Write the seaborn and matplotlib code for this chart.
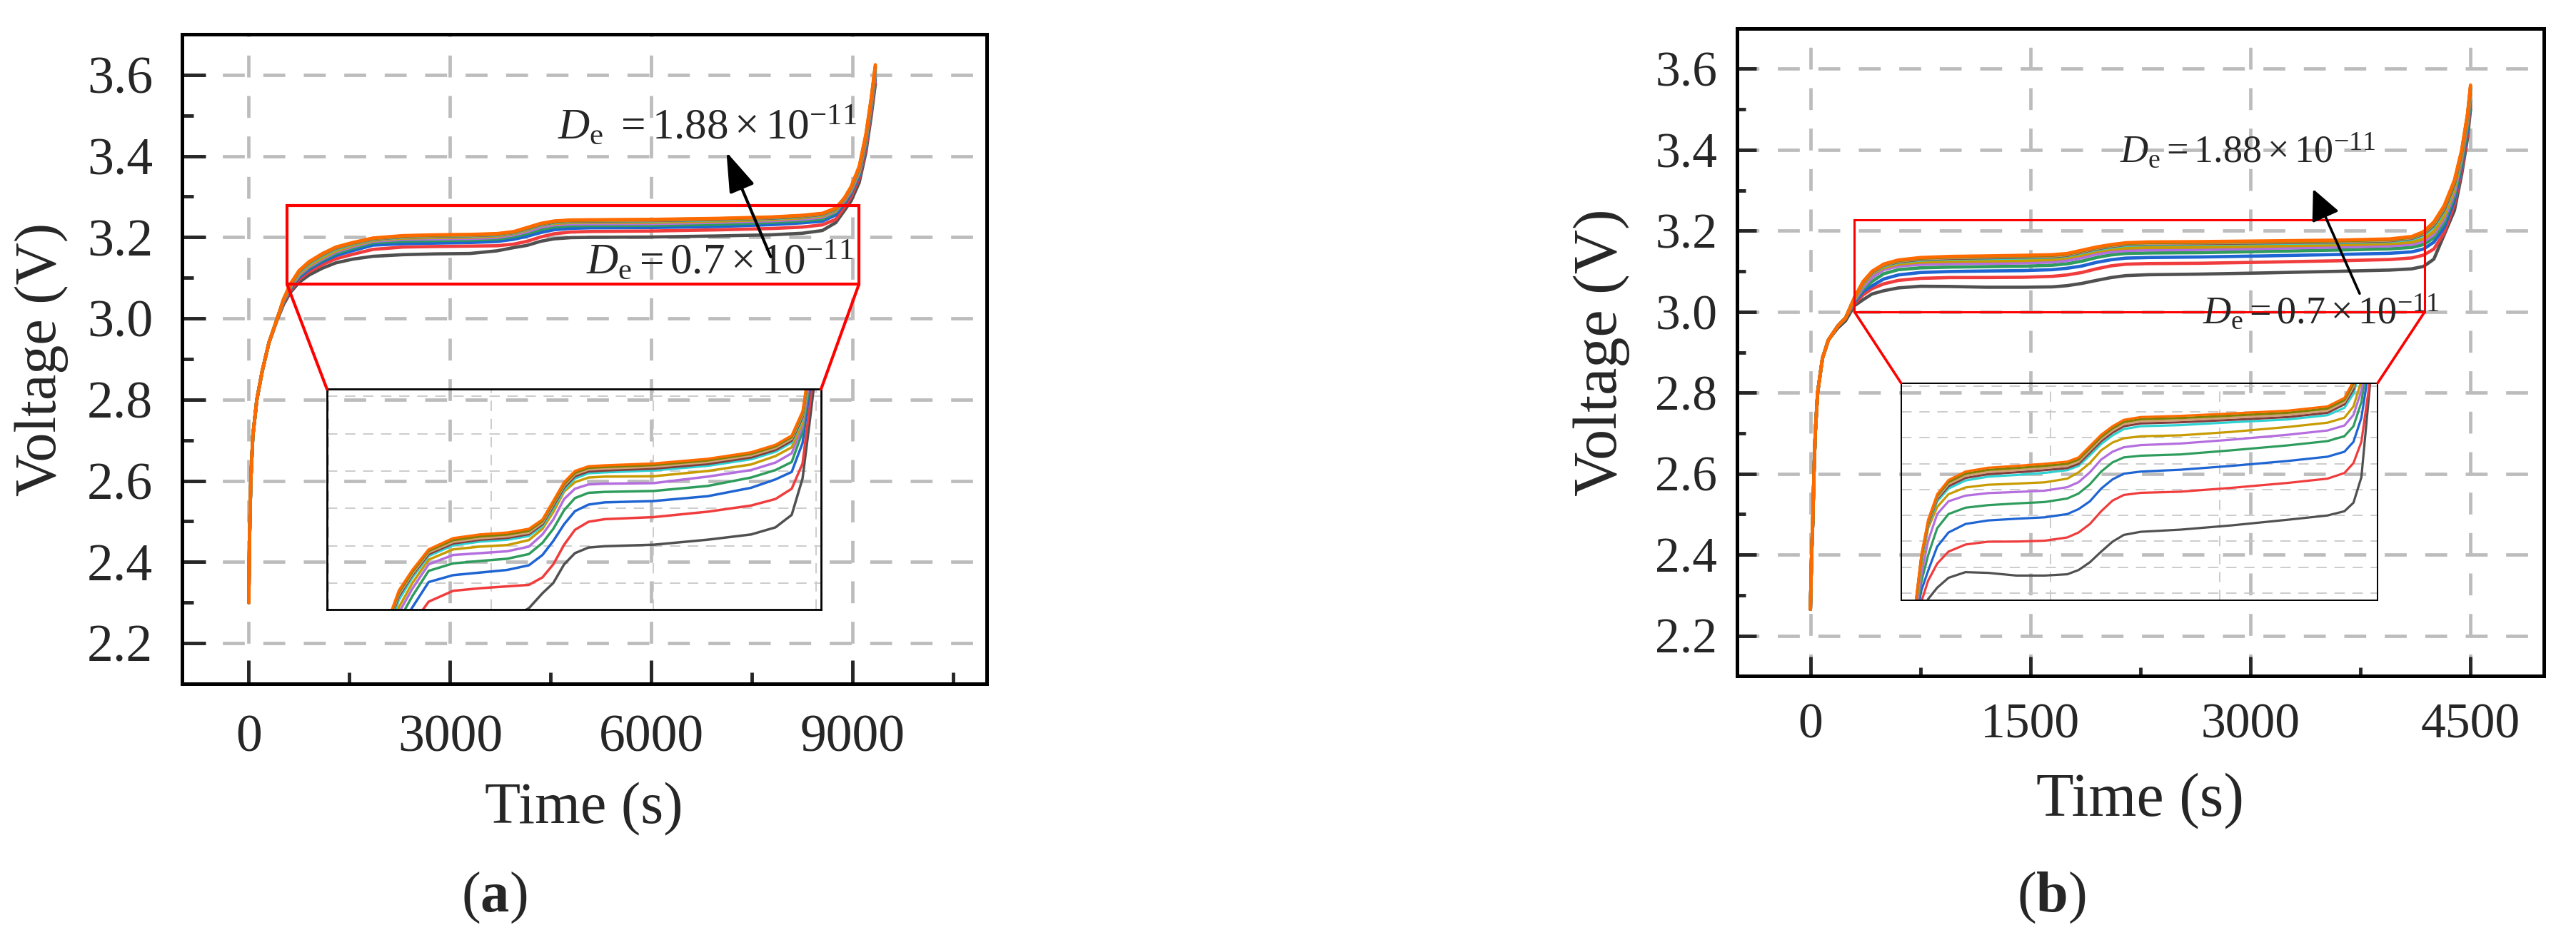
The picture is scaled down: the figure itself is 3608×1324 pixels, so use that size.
import numpy as np
import pandas as pd
import matplotlib
matplotlib.use("Agg")
import matplotlib.pyplot as plt
import seaborn as sns
from matplotlib.ticker import MultipleLocator, FixedLocator, FormatStrFormatter
from matplotlib.patches import Rectangle, ArrowStyle

# ---------------- data ----------------
de_labels = ["0.70", "0.82", "0.94", "1.05", "1.17", "1.29", "1.41", "1.52", "1.64", "1.76", "1.88"]
line_colors = ["#505050", "#f03c3c", "#1e64d2", "#2e9c5c", "#b46ede", "#c89b00",
               "#2ed2d2", "#823c3c", "#d2a078", "#7f8000", "#ff6a00"]

# panel (a)
time_a = [0, 10, 30, 60, 120, 200, 300, 420, 520, 620, 750, 900, 1100, 1300, 1550, 1850,
          2300, 2800, 3300, 3700, 3950, 4150, 4350, 4550, 4800, 5100, 6000, 7000, 7800,
          8250, 8550, 8750, 8880, 8980, 9100, 9200, 9280, 9340]
volt_a_01 = [2.30, 2.45, 2.60, 2.71, 2.80, 2.87, 2.94, 2.995, 3.035, 3.064, 3.089, 3.107, 3.124, 3.137, 3.146, 3.153, 3.157, 3.159, 3.160, 3.1665, 3.1745, 3.180, 3.190, 3.196, 3.199, 3.1997, 3.2005, 3.2032, 3.206, 3.2098, 3.2165, 3.236, 3.266, 3.29, 3.335, 3.41, 3.50, 3.578]
volt_a_02 = [2.30, 2.45, 2.60, 2.71, 2.80, 2.87, 2.94, 2.996, 3.039, 3.069, 3.096, 3.115, 3.133, 3.147, 3.158, 3.170, 3.1758, 3.1772, 3.1782, 3.179, 3.183, 3.190, 3.2005, 3.2085, 3.2128, 3.2142, 3.2153, 3.2182, 3.2215, 3.225, 3.2305, 3.244, 3.274, 3.30, 3.345, 3.42, 3.51, 3.588]
volt_a_03 = [2.30, 2.45, 2.60, 2.71, 2.80, 2.87, 2.94, 2.997, 3.041, 3.073, 3.101, 3.121, 3.140, 3.155, 3.167, 3.1805, 3.1842, 3.1856, 3.187, 3.1895, 3.195, 3.2025, 3.2115, 3.2185, 3.222, 3.2232, 3.2239, 3.2265, 3.231, 3.2355, 3.2395, 3.255, 3.283, 3.308, 3.352, 3.429, 3.518, 3.595]
volt_a_04 = [2.30, 2.45, 2.60, 2.71, 2.80, 2.87, 2.94, 2.998, 3.043, 3.075, 3.105, 3.125, 3.144, 3.160, 3.173, 3.1865, 3.1905, 3.1918, 3.193, 3.1955, 3.2015, 3.209, 3.219, 3.2255, 3.2283, 3.2288, 3.2293, 3.232, 3.2365, 3.2405, 3.2448, 3.261, 3.287, 3.312, 3.357, 3.434, 3.524, 3.600]
volt_a_05 = [2.30, 2.45, 2.60, 2.71, 2.80, 2.87, 2.94, 2.998, 3.044, 3.077, 3.107, 3.128, 3.147, 3.164, 3.177, 3.190, 3.195, 3.196, 3.197, 3.1995, 3.206, 3.214, 3.225, 3.2305, 3.2328, 3.2332, 3.2335, 3.237, 3.2405, 3.2445, 3.2495, 3.264, 3.290, 3.315, 3.360, 3.438, 3.528, 3.605]
volt_a_06 = [2.30, 2.45, 2.60, 2.71, 2.80, 2.87, 2.94, 2.998, 3.045, 3.079, 3.110, 3.131, 3.150, 3.167, 3.180, 3.1925, 3.198, 3.1995, 3.2003, 3.203, 3.209, 3.218, 3.229, 3.234, 3.2365, 3.237, 3.2372, 3.240, 3.2435, 3.248, 3.2527, 3.266, 3.293, 3.318, 3.363, 3.442, 3.532, 3.610]
volt_a_07 = [2.30, 2.45, 2.60, 2.71, 2.80, 2.87, 2.94, 2.998, 3.046, 3.081, 3.113, 3.135, 3.155, 3.171, 3.183, 3.1945, 3.2002, 3.2022, 3.2032, 3.2052, 3.2105, 3.220, 3.230, 3.236, 3.2388, 3.2393, 3.2403, 3.2428, 3.2463, 3.2503, 3.2553, 3.268, 3.295, 3.321, 3.367, 3.446, 3.536, 3.616]
volt_a_08 = [2.30, 2.45, 2.60, 2.71, 2.80, 2.87, 2.94, 2.998, 3.047, 3.082, 3.115, 3.137, 3.157, 3.173, 3.1843, 3.1955, 3.2012, 3.2032, 3.2042, 3.2062, 3.2115, 3.2212, 3.2312, 3.2372, 3.2398, 3.2403, 3.2413, 3.2438, 3.2473, 3.2513, 3.2563, 3.269, 3.2955, 3.322, 3.369, 3.448, 3.538, 3.618]
volt_a_09 = [2.30, 2.45, 2.60, 2.71, 2.80, 2.87, 2.94, 2.998, 3.047, 3.083, 3.116, 3.138, 3.158, 3.174, 3.185, 3.1964, 3.202, 3.204, 3.205, 3.207, 3.2123, 3.2222, 3.2322, 3.2382, 3.2408, 3.2413, 3.2423, 3.2448, 3.2483, 3.2523, 3.2573, 3.270, 3.296, 3.323, 3.371, 3.450, 3.540, 3.620]
volt_a_10 = [2.30, 2.45, 2.60, 2.71, 2.80, 2.87, 2.94, 2.998, 3.048, 3.084, 3.117, 3.139, 3.159, 3.175, 3.186, 3.1972, 3.203, 3.205, 3.206, 3.208, 3.2132, 3.223, 3.233, 3.239, 3.2417, 3.2422, 3.2432, 3.2457, 3.2492, 3.2532, 3.2582, 3.271, 3.2965, 3.324, 3.373, 3.452, 3.542, 3.622]
volt_a_11 = [2.30, 2.45, 2.60, 2.71, 2.80, 2.87, 2.94, 2.998, 3.048, 3.085, 3.118, 3.140, 3.160, 3.176, 3.187, 3.198, 3.204, 3.206, 3.207, 3.209, 3.214, 3.224, 3.234, 3.240, 3.2425, 3.243, 3.244, 3.2465, 3.250, 3.254, 3.259, 3.272, 3.297, 3.325, 3.375, 3.455, 3.545, 3.625]

# panel (b)
time_b = [0, 8, 16, 24, 33, 49, 82, 122, 187, 240, 300, 360, 420, 500, 600, 750, 950, 1200,
          1450, 1650, 1750, 1850, 1950, 2050, 2150, 2300, 2650, 3100, 3600, 3950, 4100, 4180,
          4250, 4320, 4390, 4440, 4480, 4500]
volt_b_01 = [2.265, 2.40, 2.48, 2.60, 2.70, 2.80, 2.885, 2.93, 2.96, 2.978, 3.015, 3.030, 3.044, 3.052, 3.059, 3.063, 3.0625, 3.0606, 3.0606, 3.0615, 3.0645, 3.070, 3.0775, 3.0845, 3.0893, 3.0915, 3.093, 3.096, 3.100, 3.103, 3.106, 3.112, 3.13, 3.19, 3.25, 3.34, 3.43, 3.50]
volt_b_02 = [2.265, 2.40, 2.48, 2.60, 2.70, 2.80, 2.885, 2.93, 2.965, 2.985, 3.020, 3.042, 3.057, 3.069, 3.0775, 3.0825, 3.0845, 3.0846, 3.0852, 3.0875, 3.091, 3.097, 3.106, 3.1135, 3.1175, 3.119, 3.1198, 3.1225, 3.126, 3.129, 3.133, 3.140, 3.155, 3.195, 3.265, 3.35, 3.44, 3.51]
volt_b_03 = [2.265, 2.40, 2.48, 2.60, 2.70, 2.80, 2.885, 2.93, 2.965, 2.985, 3.024, 3.050, 3.064, 3.081, 3.091, 3.097, 3.0995, 3.1007, 3.1017, 3.104, 3.1075, 3.113, 3.122, 3.1285, 3.1325, 3.134, 3.1353, 3.138, 3.1415, 3.1445, 3.148, 3.155, 3.172, 3.208, 3.275, 3.36, 3.45, 3.52]
volt_b_04 = [2.265, 2.40, 2.48, 2.60, 2.70, 2.80, 2.885, 2.93, 2.965, 2.985, 3.027, 3.056, 3.075, 3.094, 3.104, 3.1085, 3.1103, 3.1115, 3.1125, 3.115, 3.1185, 3.125, 3.134, 3.1405, 3.144, 3.1452, 3.1461, 3.149, 3.1525, 3.1555, 3.159, 3.166, 3.183, 3.22, 3.285, 3.37, 3.46, 3.525]
volt_b_05 = [2.265, 2.40, 2.48, 2.60, 2.70, 2.80, 2.885, 2.93, 2.965, 2.985, 3.029, 3.061, 3.085, 3.104, 3.113, 3.117, 3.1188, 3.1196, 3.1205, 3.123, 3.1265, 3.1335, 3.1425, 3.148, 3.1512, 3.1527, 3.1538, 3.1565, 3.160, 3.163, 3.1665, 3.174, 3.191, 3.229, 3.294, 3.38, 3.47, 3.535]
volt_b_06 = [2.265, 2.40, 2.48, 2.60, 2.70, 2.80, 2.885, 2.93, 2.965, 2.985, 3.031, 3.068, 3.094, 3.109, 3.118, 3.1228, 3.1247, 3.1255, 3.1264, 3.129, 3.1335, 3.140, 3.149, 3.1545, 3.1575, 3.1589, 3.1596, 3.162, 3.1655, 3.1685, 3.172, 3.180, 3.198, 3.237, 3.303, 3.385, 3.475, 3.54]
volt_b_07 = [2.265, 2.40, 2.48, 2.60, 2.70, 2.80, 2.885, 2.93, 2.965, 2.985, 3.033, 3.072, 3.096, 3.113, 3.122, 3.1277, 3.1304, 3.1316, 3.1331, 3.135, 3.138, 3.1455, 3.1535, 3.1595, 3.164, 3.166, 3.1668, 3.1688, 3.1708, 3.1738, 3.179, 3.189, 3.21, 3.248, 3.312, 3.392, 3.482, 3.548]
volt_b_08 = [2.265, 2.40, 2.48, 2.60, 2.70, 2.80, 2.885, 2.93, 2.965, 2.985, 3.034, 3.073, 3.097, 3.1145, 3.1237, 3.1295, 3.1322, 3.1335, 3.135, 3.1365, 3.1395, 3.1475, 3.1555, 3.1615, 3.166, 3.168, 3.1688, 3.1705, 3.1725, 3.1755, 3.1815, 3.192, 3.214, 3.252, 3.316, 3.394, 3.485, 3.552]
volt_b_09 = [2.265, 2.40, 2.48, 2.60, 2.70, 2.80, 2.885, 2.93, 2.965, 2.985, 3.034, 3.074, 3.098, 3.1155, 3.1252, 3.131, 3.1337, 3.135, 3.1365, 3.138, 3.141, 3.149, 3.157, 3.163, 3.1675, 3.1695, 3.1703, 3.172, 3.174, 3.177, 3.183, 3.194, 3.217, 3.256, 3.32, 3.397, 3.487, 3.555]
volt_b_10 = [2.265, 2.40, 2.48, 2.60, 2.70, 2.80, 2.885, 2.93, 2.965, 2.985, 3.035, 3.0745, 3.099, 3.1168, 3.1266, 3.1325, 3.1352, 3.1365, 3.138, 3.1395, 3.1425, 3.1505, 3.1585, 3.1645, 3.169, 3.171, 3.1718, 3.1735, 3.1755, 3.1785, 3.1845, 3.196, 3.22, 3.259, 3.322, 3.398, 3.488, 3.557]
volt_b_11 = [2.265, 2.40, 2.48, 2.60, 2.70, 2.80, 2.885, 2.93, 2.965, 2.985, 3.035, 3.075, 3.100, 3.118, 3.128, 3.134, 3.1367, 3.138, 3.1395, 3.141, 3.144, 3.152, 3.160, 3.166, 3.1705, 3.1725, 3.1733, 3.175, 3.177, 3.180, 3.186, 3.198, 3.222, 3.262, 3.325, 3.40, 3.49, 3.56]

volts_a = [volt_a_01, volt_a_02, volt_a_03, volt_a_04, volt_a_05, volt_a_06,
           volt_a_07, volt_a_08, volt_a_09, volt_a_10, volt_a_11]
volts_b = [volt_b_01, volt_b_02, volt_b_03, volt_b_04, volt_b_05, volt_b_06,
           volt_b_07, volt_b_08, volt_b_09, volt_b_10, volt_b_11]


def long_frame(times, volts):
    rows = []
    for lab, v in zip(de_labels, volts):
        for t, y in zip(times, v):
            rows.append((lab, t, y))
    return pd.DataFrame(rows, columns=["De", "time", "voltage"])


df_a = long_frame(time_a, volts_a)
df_b = long_frame(time_b, volts_b)
palette = dict(zip(de_labels, line_colors))

# ---------------- style ----------------
sns.set_style("white")
plt.rcParams["font.family"] = ["Liberation Serif", "DejaVu Serif"]
plt.rcParams["mathtext.fontset"] = "custom"
plt.rcParams["mathtext.rm"] = "Liberation Serif"
plt.rcParams["mathtext.it"] = "Liberation Serif:italic"
plt.rcParams["mathtext.bf"] = "Liberation Serif:bold"

RED = "#ff0000"
GRID = "#bcbcbc"

fig = plt.figure(figsize=(36.08, 13.24), dpi=100)
ax_a = fig.add_axes([0.07054, 0.27644, 0.3125, 0.68731])
ax_b = fig.add_axes([0.67433, 0.28444, 0.3132, 0.68558])


def style_main(ax, xlim, xmaj, xmin, tick_len, tick_fs, xpad, ypad, label_fs, xlpad, ylpad):
    ax.set_xlim(*xlim)
    ax.set_ylim(2.1, 3.7)
    ax.xaxis.set_major_locator(MultipleLocator(xmaj))
    ax.xaxis.set_minor_locator(MultipleLocator(xmin))
    ax.yaxis.set_major_locator(MultipleLocator(0.2))
    ax.yaxis.set_minor_locator(MultipleLocator(0.1))
    ax.yaxis.set_major_formatter(FormatStrFormatter("%.1f"))
    ax.set_axisbelow(True)
    ax.grid(which="major", color=GRID, linewidth=3.4, linestyle=(0, (6.5, 5.5)))
    ax.tick_params(which="both", direction="in", top=False, right=False,
                   bottom=True, left=True, width=3.5, labelsize=tick_fs)
    ax.tick_params(which="major", length=tick_len)
    ax.tick_params(which="minor", length=tick_len * 0.48)
    ax.tick_params(axis="x", pad=xpad)
    ax.tick_params(axis="y", pad=ypad)
    for s in ax.spines.values():
        s.set_linewidth(3.6)
        s.set_color("black")
    ax.set_xlabel("Time (s)", fontsize=label_fs, labelpad=xlpad)
    ax.set_ylabel("Voltage (V)", fontsize=label_fs, labelpad=ylpad)


def style_inset(ax, xlim, ylim, xmaj, xmin, yticks_major, yticks_minor, lw_spine, tlen):
    ax.set_facecolor("none")
    ax.set_xlim(*xlim)
    ax.set_ylim(*ylim)
    ax.xaxis.set_major_locator(MultipleLocator(xmaj))
    ax.xaxis.set_minor_locator(MultipleLocator(xmin))
    ax.yaxis.set_major_locator(FixedLocator(yticks_major))
    ax.yaxis.set_minor_locator(FixedLocator(yticks_minor))
    ax.set_axisbelow(True)
    ax.grid(which="major", color="#c8c8c8", linewidth=1.3, linestyle=(0, (8, 6)))
    ax.tick_params(which="both", direction="in", top=False, right=False,
                   labelbottom=False, labelleft=False, width=lw_spine)
    ax.tick_params(which="major", length=tlen)
    ax.tick_params(which="minor", length=tlen * 0.5)
    for s in ax.spines.values():
        s.set_linewidth(lw_spine)
        s.set_color("black")
    ax.set_xlabel("")
    ax.set_ylabel("")


# ---------------- panel (a) ----------------
sns.lineplot(data=df_a, x="time", y="voltage", hue="De", hue_order=de_labels,
             palette=palette, linewidth=3.3, legend=False, estimator=None,
             sort=False, ax=ax_a)
style_main(ax_a, (-1000, 11000), 3000, 1500, 24, 53, 31, 29, 59, 20, 19)

rect_a = (570, 3.084, 9095, 3.278)        # x0, y0, x1, y1 (data)
ins_a_box = (1165, 2.282, 8531, 2.826)    # x0, y0, x1, y1 (data)
ax_a.add_patch(Rectangle((rect_a[0], rect_a[1]), rect_a[2] - rect_a[0], rect_a[3] - rect_a[1],
                         fill=False, edgecolor=RED, linewidth=3.0, zorder=6))
ax_a.plot([rect_a[0], ins_a_box[0]], [rect_a[1], ins_a_box[3]], color=RED, lw=3.0, zorder=6)
ax_a.plot([rect_a[2], ins_a_box[2]], [rect_a[1], ins_a_box[3]], color=RED, lw=3.0, zorder=6)

ins_a = ax_a.inset_axes([ins_a_box[0], ins_a_box[1], ins_a_box[2] - ins_a_box[0],
                         ins_a_box[3] - ins_a_box[1]], transform=ax_a.transData)
sns.lineplot(data=df_a, x="time", y="voltage", hue="De", hue_order=de_labels,
             palette=palette, linewidth=2.5, legend=False, estimator=None,
             sort=False, ax=ins_a)
style_inset(ins_a, (-27, 9092), (3.1656, 3.2839), 3000, 1500,
            np.arange(3.18, 3.2801, 0.02), np.arange(3.17, 3.2801, 0.02), 2.0, 9.5)

ax_a.text(4602, 3.442, r"$D_{\mathrm{e}}\ = 1.88\times10^{-11}$", fontsize=44,
          ha="left", va="baseline", zorder=7)
ax_a.text(5031, 3.1095, r"$D_{\mathrm{e}} = 0.7\times10^{-11}$", fontsize=44,
          ha="left", va="baseline", zorder=7)
ax_a.annotate("", xy=(7120, 3.41), xytext=(7780, 3.152),
              arrowprops=dict(arrowstyle=ArrowStyle("-|>", head_length=1.5, head_width=0.5),
                              mutation_scale=23, lw=3.0, color="black",
                              shrinkA=0, shrinkB=0), zorder=7)

# ---------------- panel (b) ----------------
sns.lineplot(data=df_b, x="time", y="voltage", hue="De", hue_order=de_labels,
             palette=palette, linewidth=3.3, legend=False, estimator=None,
             sort=False, ax=ax_b)
style_main(ax_b, (-500, 5000), 1500, 750, 19.5, 50, 27, 20, 62, 24, 25)
ax_b.tick_params(which="minor", length=8.6)

rect_b = (300, 3.0, 4188, 3.227)
ins_b_box = (618, 2.287, 3867, 2.824)
ax_b.add_patch(Rectangle((rect_b[0], rect_b[1]), rect_b[2] - rect_b[0], rect_b[3] - rect_b[1],
                         fill=False, edgecolor=RED, linewidth=2.2, zorder=6))
ax_b.plot([rect_b[0], ins_b_box[0]], [rect_b[1], ins_b_box[3]], color=RED, lw=2.6, zorder=6)
ax_b.plot([rect_b[2], ins_b_box[2]], [rect_b[1], ins_b_box[3]], color=RED, lw=2.6, zorder=6)

ins_b = ax_b.inset_axes([ins_b_box[0], ins_b_box[1], ins_b_box[2] - ins_b_box[0],
                         ins_b_box[3] - ins_b_box[1]], transform=ax_b.transData)
sns.lineplot(data=df_b, x="time", y="voltage", hue="De", hue_order=de_labels,
             palette=palette, linewidth=2.3, legend=False, estimator=None,
             sort=False, ax=ins_b)
yt_b = np.arange(3.0482, 3.196, 0.01828)
style_inset(ins_b, (181, 4394), (3.043, 3.1965), 1500, 750,
            yt_b, yt_b[:-1] + 0.00914, 1.4, 7.7)

ax_b.text(2110, 3.3695, r"$D_{\mathrm{e}} = 1.88\times10^{-11}$", fontsize=39,
          ha="left", va="baseline", zorder=7)
ax_b.text(2673, 2.9704, r"$D_{\mathrm{e}} = 0.7\times10^{-11}$", fontsize=39,
          ha="left", va="baseline", zorder=7)
ax_b.annotate("", xy=(3427, 3.303), xytext=(3744, 3.045),
              arrowprops=dict(arrowstyle=ArrowStyle("-|>", head_length=1.33, head_width=0.63),
                              mutation_scale=20, lw=2.6, color="black",
                              shrinkA=0, shrinkB=0), zorder=7)

# ---------------- panel labels ----------------
fig.text(692 / 3608, 1 - 1258 / 1324, r"($\mathbf{a}$)", fontsize=58, ha="center", va="center")
fig.text(2873 / 3608, 1 - 1258 / 1324, r"($\mathbf{b}$)", fontsize=58, ha="center", va="center")

fig.savefig("out.png", dpi=100, facecolor="white")
